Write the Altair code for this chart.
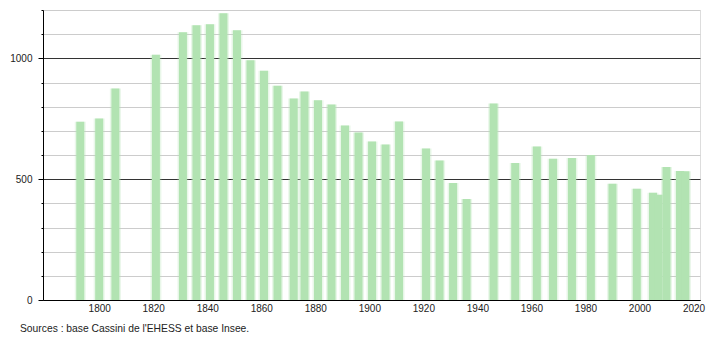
import altair as alt
import pandas as pd

years = [1793, 1800, 1806, 1821, 1831, 1836, 1841, 1846, 1851, 1856, 1861, 1866,
         1872, 1876, 1881, 1886, 1891, 1896, 1901, 1906, 1911, 1921, 1926, 1931,
         1936, 1946, 1954, 1962, 1968, 1975, 1982, 1990, 1999, 2005, 2007, 2010,
         2015, 2017]
population = [738, 751, 875, 1015, 1108, 1137, 1141, 1187, 1116, 992, 949, 887,
              834, 863, 827, 809, 722, 693, 656, 643, 739, 627, 577, 484,
              418, 813, 567, 635, 584, 588, 600, 481, 460, 444, 436, 550,
              534, 533]
y_ticks = list(range(0, 1300, 100))
x_ticks = list(range(1800, 2040, 20))
source = "Sources : base Cassini de l'EHESS et base Insee."

df = pd.DataFrame({"year": years, "pop": population})

x_scale = alt.Scale(domain=[1779.2, 2022.4], nice=False, zero=False, padding=0)
y_scale = alt.Scale(domain=[0, 1200], nice=False, padding=0)

x_axis = alt.Axis(values=x_ticks, format="d", tickSize=0, grid=False,
                  domainColor="#000", labelPadding=3, title=None,
                  labelFontSize=10, labelColor="#222", labelFont="Liberation Sans",
                  labelOverlap=False)
y_axis = alt.Axis(values=y_ticks, format="d", tickCount=13,
                  labelExpr="datum.value % 500 === 0 ? datum.label : ''",
                  labelOverlap=False,
                  grid=True,
                  gridColor={"condition": {"test": "datum.value % 500 === 0", "value": "#333333"},
                             "value": "#cccccc"},
                  tickColor="#000",
                  tickSize={"condition": {"test": "datum.value % 500 === 0", "value": 5},
                            "value": 2},
                  domainColor="#000", labelPadding=6, title=None,
                  labelFontSize=10, labelColor="#222", labelFont="Liberation Sans")

base = alt.Chart(df)
glow = base.mark_bar(size=11, color="#b6e6b6", opacity=0.3)
bars = base.mark_bar(size=8, color="#b2e3b2")

chart = alt.layer(glow, bars).encode(
    x=alt.X("year:Q", scale=x_scale, axis=x_axis),
    y=alt.Y("pop:Q", scale=y_scale, axis=y_axis),
).properties(
    width=657, height=290,
    autosize=alt.AutoSizeParams(type="none"),
    padding={"left": 43, "top": 10, "right": 10, "bottom": 40},
    title=alt.TitleParams(source, orient="bottom", anchor="start", frame="group", dx=-23,
                          fontSize=10.3, fontWeight="normal", color="#222",
                          font="Liberation Sans", offset=11),
).configure_view(stroke=None).configure(background="white")

chart.save("out.html", embed_options={"renderer": "svg", "actions": False})
